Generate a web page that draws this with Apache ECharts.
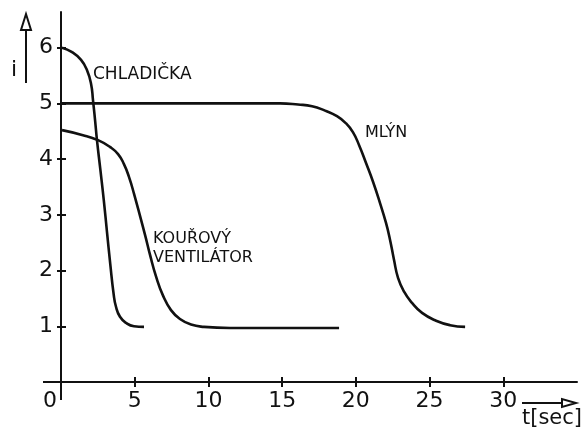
<!DOCTYPE html>
<html>
<head>
<meta charset="utf-8">
<script src="https://cdn.jsdelivr.net/npm/echarts@6/dist/echarts.min.js"></script>
<style>html,body{margin:0;padding:0;background:#fff}#c{width:587px;height:433px}</style>
</head>
<body>
<div id="c"></div>
<script>
// Data (t in seconds, i relative current)
const xTicks = [5, 10, 15, 20, 25, 30];
const xLabels = [0, 5, 10, 15, 20, 25, 30];
const yTicks = [1, 2, 3, 4, 5, 6];

const chladickaT = [0.07, 0.75, 1.36, 1.76, 2.04, 2.17, 2.31, 2.44, 2.67, 2.90, 3.12, 3.34, 3.57, 3.73, 4.0, 4.41, 4.95, 5.63];
const chladickaI = [6.0, 5.92, 5.78, 5.6, 5.35, 5.06, 4.70, 4.34, 3.81, 3.27, 2.69, 2.12, 1.58, 1.35, 1.17, 1.06, 1.0, 0.99];

const kourT = [0.07, 1.49, 2.51, 3.32, 3.87, 4.27, 4.61, 4.95, 5.70, 6.04, 6.45, 6.92, 7.46, 8.07, 8.82, 9.70, 11.47, 18.86];
const kourI = [4.52, 4.43, 4.34, 4.22, 4.09, 3.91, 3.68, 3.38, 2.64, 2.28, 1.89, 1.55, 1.29, 1.13, 1.03, 0.99, 0.97, 0.97];

const mlynT = [0, 9.43, 14.86, 16.08, 17.03, 17.91, 18.72, 19.34, 19.81, 20.22, 20.69, 21.17, 21.64, 22.05, 22.32, 22.59, 22.86, 23.27, 23.81, 24.49, 25.44, 26.39, 27.41];
const mlynI = [5.0, 5.0, 5.0, 4.98, 4.95, 4.87, 4.77, 4.64, 4.48, 4.25, 3.93, 3.59, 3.21, 2.85, 2.55, 2.19, 1.87, 1.62, 1.42, 1.24, 1.10, 1.02, 0.99];

const zip = (a, b) => a.map((v, k) => [v, b[k]]);
const lineStyle = { color: '#111', width: 2.6 };
const mk = (name, t, i) => ({
  name, type: 'line', data: zip(t, i), smooth: 0.5, showSymbol: false,
  lineStyle, xAxisIndex: 0, yAxisIndex: 0, z: 3, clip: false
});
const F = 'DejaVu Sans';
const tickStyle = { color: '#111', width: 2 };

const chart = echarts.init(document.getElementById('c'));
chart.setOption({
  animation: false,
  grid: { left: 61, right: 10, top: 12, bottom: 51 },
  xAxis: [{
    type: 'value', min: 0, max: 35,
    axisLine: { lineStyle: { color: '#111', width: 2 } },
    axisTick: { show: true, customValues: xTicks, length: 5, lineStyle: tickStyle },
    axisLabel: {
      customValues: xLabels, margin: 8, color: '#111', fontFamily: F, fontSize: 22,
      formatter: v => v === 0 ? '{o|0}' : String(v),
      rich: { o: { fontFamily: F, fontSize: 22, color: '#111', padding: [0, 22, 0, 0] } }
    },
    splitLine: { show: false }
  }, {
    type: 'value', min: 0, max: 35, position: 'bottom',
    axisLine: { show: false },
    axisTick: { show: true, inside: true, customValues: xTicks, length: 5, lineStyle: tickStyle },
    axisLabel: { show: false }, splitLine: { show: false }
  }],
  yAxis: [{
    type: 'value', min: 0, max: 6.64,
    axisLine: { lineStyle: { color: '#111', width: 2 } },
    axisTick: { show: true, customValues: yTicks, length: 4, lineStyle: tickStyle },
    axisLabel: { customValues: yTicks, margin: 8, color: '#111', fontFamily: F, fontSize: 22 },
    splitLine: { show: false }
  }, {
    type: 'value', min: 0, max: 6.64, position: 'left',
    axisLine: { show: false },
    axisTick: { show: true, inside: true, customValues: yTicks, length: 5, lineStyle: tickStyle },
    axisLabel: { show: false }, splitLine: { show: false }
  }],
  series: [
    mk('CHLADIČKA', chladickaT, chladickaI),
    mk('KOUŘOVÝ VENTILÁTOR', kourT, kourI),
    mk('MLÝN', mlynT, mlynI)
  ],
  graphic: [
    // axis overhangs past the origin
    { type: 'line', shape: { x1: 43, y1: 382, x2: 61, y2: 382 }, style: { stroke: '#111', lineWidth: 2 } },
    { type: 'line', shape: { x1: 61, y1: 382, x2: 61, y2: 400 }, style: { stroke: '#111', lineWidth: 2 } },
    { type: 'text', left: 93, top: 66, style: { text: 'CHLADIČKA', font: '17px "DejaVu Sans"', fill: '#111' } },
    { type: 'text', left: 365, top: 125, style: { text: 'MLÝN', font: '16px "DejaVu Sans"', fill: '#111' } },
    { type: 'text', left: 153, top: 229, style: { text: 'KOUŘOVÝ\nVENTILÁTOR', font: '16px "DejaVu Sans"', lineHeight: 19, fill: '#111' } },
    { type: 'text', left: 11, top: 59, style: { text: 'i', font: '22px "DejaVu Sans"', fill: '#111' } },
    { type: 'line', shape: { x1: 26, y1: 83, x2: 26, y2: 29 }, style: { stroke: '#111', lineWidth: 2 } },
    { type: 'polygon', shape: { points: [[21, 30], [31, 30], [26, 14]] }, style: { stroke: '#111', fill: '#fff', lineWidth: 2 } },
    { type: 'line', shape: { x1: 522, y1: 403, x2: 563, y2: 403 }, style: { stroke: '#111', lineWidth: 2 } },
    { type: 'polygon', shape: { points: [[562, 399], [562, 407], [576, 403]] }, style: { stroke: '#111', fill: '#fff', lineWidth: 2 } },
    { type: 'text', left: 522, top: 408, style: { text: 't[sec]', font: '21px "DejaVu Sans"', fill: '#111' } }
  ]
});
</script>
</body>
</html>
